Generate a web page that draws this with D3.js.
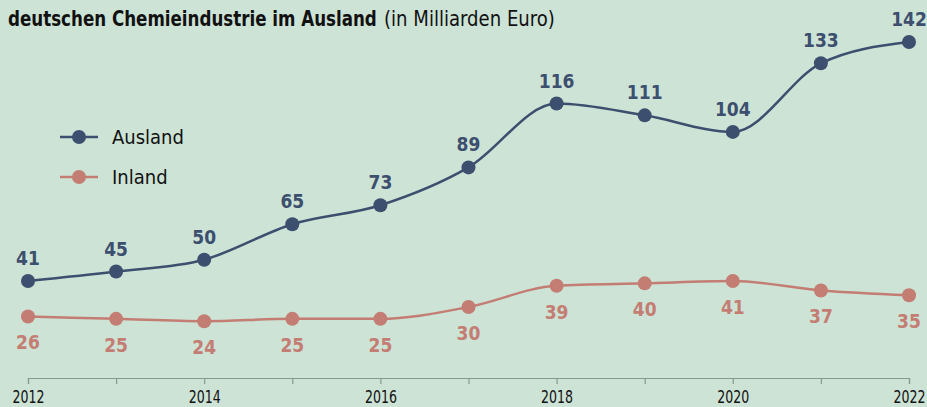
<!DOCTYPE html>
<html><head><meta charset="utf-8">
<script src="https://cdn.jsdelivr.net/npm/d3@7"></script>
<style>
html,body{margin:0;padding:0;background:#cde3d6;}
svg{display:block;font-family:"DejaVu Sans Condensed","Roboto",sans-serif;}
</style></head>
<body><svg id="c" width="927" height="407"></svg>
<script>
const years = [2012,2013,2014,2015,2016,2017,2018,2019,2020,2021,2022];
const ausland = [41,45,50,65,73,89,116,111,104,133,142];
const inland = [26,25,24,25,25,30,39,40,41,37,35];
const tickYears = [2012,2014,2016,2018,2020,2022];
const titleBold = "deutschen Chemieindustrie im Ausland";
const titleNormal = "(in Milliarden Euro)";
const seriesNames = ["Ausland","Inland"];

const cA = "#3d4f6e", cI = "#c47d73";
const svg = d3.select("#c");
svg.append("rect").attr("width",927).attr("height",407).attr("fill","#cde3d6");

const x = d3.scaleLinear().domain([2012,2022]).range([28,909]);
const y = d3.scaleLinear().domain([0,142]).range([378,42]);

// squeeze a text horizontally to a target width, anchored at (ax, ay)
function squeeze(sel, ax, ay, target, anchor){
  const w = sel.node().getComputedTextLength();
  const k = Math.min(1, target / w);
  sel.attr("x",0).attr("y",0).attr("text-anchor",anchor || "start")
     .attr("transform",`translate(${ax},${ay}) scale(${k},1)`);
}

// axis
const ax = svg.append("g").attr("transform","translate(0,378)")
  .call(d3.axisBottom(x).tickValues(years).tickSize(6).tickFormat(d => tickYears.includes(d) ? d : ""));
ax.select(".domain").attr("stroke","#869a8e").attr("stroke-width",1.2);
ax.selectAll(".tick line").attr("stroke","#869a8e").attr("stroke-width",1.2);
ax.selectAll(".tick text").each(function(d){
  const s = d3.select(this).attr("fill","#111").attr("font-size",17).attr("dy",null)
    .attr("font-family","\"DejaVu Sans Condensed\",sans-serif");
  if (tickYears.includes(d)) squeeze(s, 0, 25, 32, "middle");
});

const line = d3.line().x((d,i)=>x(years[i])).y(d=>y(d)).curve(d3.curveMonotoneX);

function series(data, color, above){
  const g = svg.append("g");
  g.append("path").datum(data).attr("d",line).attr("fill","none").attr("stroke",color).attr("stroke-width",2.5);
  g.selectAll("circle").data(data).join("circle")
    .attr("cx",(d,i)=>x(years[i])).attr("cy",d=>y(d)).attr("r",7).attr("fill",color);
  g.selectAll("text").data(data).join("text")
    .attr("x",(d,i)=>x(years[i])).attr("y",d=>y(d) + (above ? -16 : 33))
    .attr("text-anchor","middle").attr("font-size",19).attr("font-weight","bold")
    .attr("fill",color).text(d=>d);
}
series(inland, cI, false);
series(ausland, cA, true);

// legend
const leg = [[seriesNames[0],cA,137],[seriesNames[1],cI,177]];
leg.forEach(([n,c,ly])=>{
  svg.append("line").attr("x1",60).attr("x2",98).attr("y1",ly).attr("y2",ly).attr("stroke",c).attr("stroke-width",2.5);
  svg.append("circle").attr("cx",79).attr("cy",ly).attr("r",7).attr("fill",c);
  svg.append("text").attr("x",112).attr("y",ly+7).attr("font-size",20).attr("fill","#111").text(n);
});

// title
squeeze(svg.append("text").attr("font-size",21).attr("fill","#111").attr("font-weight","bold").text(titleBold), 8, 26, 369);
squeeze(svg.append("text").attr("font-size",21).attr("fill","#111").text(titleNormal), 384, 26, 171);
</script></body></html>
